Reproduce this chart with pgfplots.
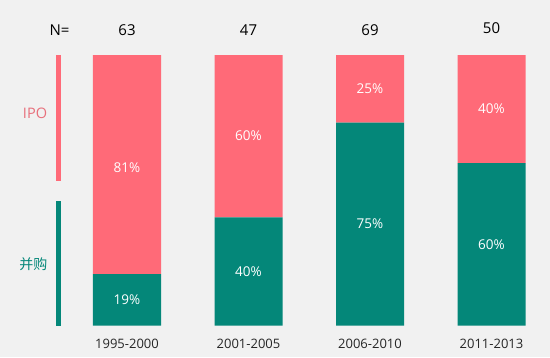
\documentclass[border=0pt]{standalone}
\usepackage{pgfplots}
\pgfplotsset{compat=1.18}
\usepackage{fontspec}
\setmainfont{Open Sans}
\newfontfamily\cjk{Noto Sans CJK SC}
\definecolor{bg}{RGB}{241,241,241}
\definecolor{ipo}{RGB}{255,106,120}
\definecolor{ma}{RGB}{4,135,121}
\definecolor{ipotxt}{RGB}{232,112,124}
\begin{document}
\begin{tikzpicture}
\fill[bg] (0,0) rectangle (550pt,357pt);
\useasboundingbox (0,0) rectangle (550pt,357pt);
\begin{axis}[
  scale only axis,
  anchor=south west, at={(66.25pt,31.5pt)},
  width=486pt, height=270.5pt,
  xmin=-0.5, xmax=3.5, ymin=0, ymax=100,
  axis lines=none,
  clip=false,
  ybar stacked, bar width=68pt,
  xtick=\empty,
  ytick=\empty,
]
\addplot[fill=ma, draw=none] coordinates {(0,19) (1,40) (2,75) (3,60)};
\addplot[fill=ipo, draw=none] coordinates {(0,81) (1,60) (2,25) (3,40)};
% category labels
\node[font=\fontsize{13}{15}\selectfont, text=black!85] at (axis cs:0,-6.6) {1995-2000};
\node[font=\fontsize{13}{15}\selectfont, text=black!85] at (axis cs:1,-6.6) {2001-2005};
\node[font=\fontsize{13}{15}\selectfont, text=black!85] at (axis cs:2,-6.6) {2006-2010};
\node[font=\fontsize{13}{15}\selectfont, text=black!85] at (axis cs:3,-6.6) {2011-2013};
% percentage label anchors
\coordinate (a1) at (axis cs:0,9.5);
\coordinate (b1) at (axis cs:0,58.5);
\coordinate (a2) at (axis cs:1,20);
\coordinate (b2) at (axis cs:1,70);
\coordinate (a3) at (axis cs:2,37.5);
\coordinate (b3) at (axis cs:2,87.5);
\coordinate (a4) at (axis cs:3,30);
\coordinate (b4) at (axis cs:3,80);
% N labels
\node[font=\fontsize{15}{17}\selectfont] at (axis cs:-0.555,109.2) {N=};
\node[font=\fontsize{15}{17}\selectfont] at (axis cs:0,109.2) {63};
\node[font=\fontsize{15}{17}\selectfont] at (axis cs:1,109.2) {47};
\node[font=\fontsize{15}{17}\selectfont] at (axis cs:2,109.2) {69};
\node[font=\fontsize{15}{17}\selectfont] at (axis cs:3,110) {50};
% side brackets
\draw[ipo, line width=5pt] (axis cs:-0.564,100) -- (axis cs:-0.564,53.4);
\draw[ma, line width=5pt] (axis cs:-0.564,46.0) -- (axis cs:-0.564,0);
\node[ipotxt, font=\fontsize{14.5}{17}\selectfont] at (axis cs:-0.757,78.6) {IPO};
\node[ma, font=\cjk\fontsize{14}{16}\selectfont] at (axis cs:-0.77,22.7) {并购};
\end{axis}
\begin{scope}[every node/.style={white, font=\fontsize{13.5}{15}\selectfont}]
\node at (a1) {19\%};
\node at (b1) {81\%};
\node at (a2) {40\%};
\node at (b2) {60\%};
\node at (a3) {75\%};
\node at (b3) {25\%};
\node at (a4) {60\%};
\node at (b4) {40\%};
\end{scope}
\end{tikzpicture}
\end{document}
